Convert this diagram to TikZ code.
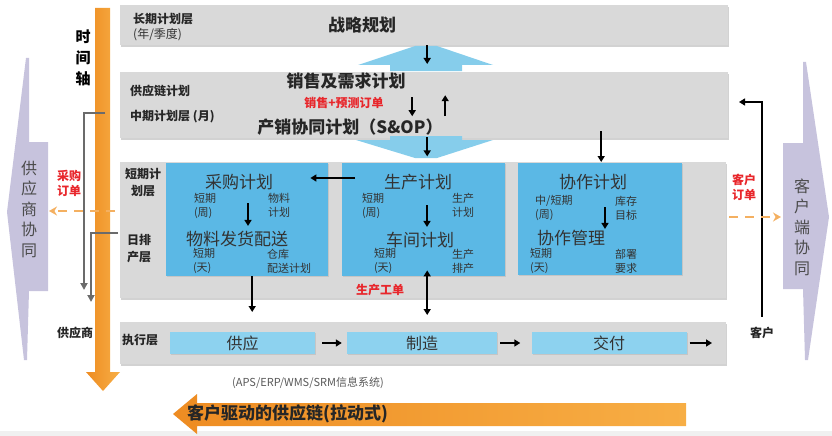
\documentclass[tikz,border=0pt]{standalone}
\usepackage{fontspec}
\setmainfont{Noto Sans CJK SC}
\usetikzlibrary{arrows.meta, positioning, calc, shadows}

\definecolor{layergray}{HTML}{D9D9D9}
\definecolor{planblue}{HTML}{5BB8E5}
\definecolor{execblue}{HTML}{8DD2EF}
\definecolor{flowblue}{HTML}{86CDEB}
\definecolor{lavender}{HTML}{C7C3DD}
\definecolor{axisdark}{HTML}{EE8C22}
\definecolor{axislight}{HTML}{F7AE45}
\definecolor{orderred}{HTML}{E8262B}
\definecolor{orderorange}{HTML}{F4B061}
\definecolor{linegray}{HTML}{6B6B6B}
\definecolor{textgray}{HTML}{333333}

\begin{document}
\begin{tikzpicture}[x=1pt, y=-1pt,
    layer/.style ={rectangle, fill=layergray, anchor=north west, inner sep=0pt,
                   drop shadow={shadow xshift=1.2pt, shadow yshift=-1.5pt, fill=black!35}},
    plan/.style  ={rectangle, fill=planblue, anchor=north west, inner sep=0pt,
                   drop shadow={shadow xshift=1pt, shadow yshift=-1.2pt, fill=black!30}},
    bar/.style   ={rectangle, fill=execblue, minimum height=22pt, inner sep=0pt, text=textgray,
                   font=\fontsize{16}{18}\selectfont,
                   drop shadow={shadow xshift=1pt, shadow yshift=-1.2pt, fill=black!30}},
    head/.style  ={inner sep=0pt, text=black!85, font=\fontsize{17}{19}\selectfont\bfseries},
    task/.style  ={inner sep=0pt, text=textgray, font=\fontsize{17}{19}\selectfont},
    note/.style  ={inner sep=0pt, text=textgray, align=left, font=\fontsize{11}{14}\selectfont},
    lvl/.style   ={inner sep=0pt, text=black!85, align=center, font=\fontsize{12}{17}\selectfont\bfseries},
    redlbl/.style={inner sep=0pt, text=orderred, align=center, font=\fontsize{12}{15}\selectfont\bfseries},
    vtxt/.style  ={inner sep=0pt, text=black!70, align=center, font=\fontsize{16}{20.5}\selectfont},
    flow/.style  ={-{Triangle[length=6pt, width=7pt]}, line width=1.6pt},
    dflow/.style ={{Triangle[length=6pt, width=7pt]}-{Triangle[length=6pt, width=7pt]}, line width=1.6pt},
    order/.style ={-{Stealth[length=8pt, width=9pt]}, draw=orderorange, line width=2pt,
                   dash pattern=on 9pt off 7pt},
    drop/.style  ={-{Triangle[length=7pt, width=7pt]}, draw=linegray, line width=2.2pt}
  ]
  \useasboundingbox (0,0) rectangle (832,436);
  \fill[black!6] (0,431) rectangle (832,436);

  % supplier / customer side shapes
  \fill[lavender] (26,58) -- (29,58) -- (29,142) -- (48,142) -- (48,291) -- (29,291)
    -- (27,360) -- (24,360) -- (7,212) -- cycle;
  \fill[lavender] (806,62) -- (803,62) -- (803,143) -- (783,143) -- (783,289) -- (803,289)
    -- (805,360) -- (808,360) -- (829,217) -- cycle;
  \node[vtxt] (gys) at (29,209) {供\\应\\商\\协\\同};
  \node[vtxt] (khs) at (802,227) {客\\户\\端\\协\\同};

  % time axis
  \shade[left color=axisdark, right color=axislight]
    (95,8) -- (110,8) -- (110,372) -- (120,372) -- (103,391) -- (86,372) -- (95,372) -- cycle;
  \node[inner sep=0pt, align=center, font=\fontsize{15}{21}\selectfont\bfseries] (axis) at (83,58) {时\\间\\轴};

  % planning layers
  \node[layer, minimum width=608pt, minimum height=40pt]  (lt)   at (120,5)   {};
  \node[layer, minimum width=608pt, minimum height=66pt]  (mid)  at (120,72)  {};
  \node[layer, minimum width=606pt, minimum height=136pt] (low)  at (120,162) {};
  \node[layer, minimum width=606pt, minimum height=42pt]  (exec) at (120,322) {};

  % flow between layers
  \fill[flowblue] (358,65) -- (415,46) -- (437,46) -- (493,65) -- (462,65) -- (462,71)
    -- (390,71) -- (390,65) -- cycle;
  \fill[flowblue] (390,136) -- (462,136) -- (462,140) -- (493,140) -- (437,158) -- (415,158)
    -- (356,140) -- (390,140) -- cycle;

  % long term
  \node[lvl, anchor=west] (ltl) at (133,19) {长期计划层};
  \node[note, anchor=west, font=\fontsize{12}{14}\selectfont] (lty) at (133,35) {(年/季度)};
  \node[head] (zl) at (362,25) {战略规划};
  \draw[flow] ($(lt.south)+(3,0)$) -- ($(mid.north)+(3,-8)$);

  % mid term
  \node[lvl, anchor=west] (scp) at (130,91)  {供应链计划};
  \node[lvl, anchor=west] (mtl) at (130,117) {中期计划层 (月)};
  \node[head] (sd)  at (346,81)  {销售及需求计划};
  \node[redlbl] (fo) at (344,103) {销售+预测订单};
  \node[head] (sop) at (350,127) {产销协同计划（S\&OP）};
  \draw[flow] ($(mid.center)+(-12,-8)$) -- ($(mid.center)+(-12,11)$);
  \draw[flow] ($(mid.center)+(21,11)$) -- ($(mid.center)+(21,-10)$);
  \draw[flow] ($(mid.south)+(3,-1)$) -- ($(mid.south)+(3,18)$);

  % short term / daily
  \node[lvl] (stl) at (143,183) {短期计\\划层};
  \node[lvl] (dsl) at (139,249) {日排\\产层};
  \node[plan, minimum width=162pt, minimum height=113pt] (pp) at (166,163) {};
  \node[plan, minimum width=163pt, minimum height=113pt] (sp) at (342,163) {};
  \node[plan, minimum width=164pt, minimum height=112pt] (cp) at (518,163) {};

  % purchase
  \node[task] (cg) at (239,182) {采购计划};
  \node[note] (cgt) at (205,206) {短期\\(周)};
  \node[note, anchor=west] (cgm) at (268,205) {物料\\计划};
  \node[task] (wl) at (237,239) {物料发货配送};
  \node[note] (wlt) at (204,261) {短期\\(天)};
  \node[note, anchor=west] (wlm) at (267,261) {仓库\\配送计划};
  \draw[flow] ($(cg.south)+(9,13)$) -- ($(wl.north)+(11,-5)$);

  % production
  \node[task] (sc) at (418,182) {生产计划};
  \node[note] (sct) at (373,206) {短期\\(周)};
  \node[note, anchor=west] (scm) at (452,205) {生产\\计划};
  \node[task] (cj) at (420,240) {车间计划};
  \node[note] (cjt) at (385,261) {短期\\(天)};
  \node[note, anchor=west] (cjm) at (452,261) {生产\\排产};
  \draw[flow] ($(sc.south)+(9,15)$) -- ($(cj.north)+(7,-5)$);
  \draw[flow] ($(sp.north west)+(13,15)$) -- ($(pp.north east)+(-18,15)$);

  % collaboration
  \node[task] (xz) at (593,182) {协作计划};
  \node[note, anchor=west] (xzt) at (535,208) {中/短期\\(周)};
  \node[note, anchor=west] (xzm) at (615,208) {库存\\目标};
  \node[task] (xg) at (571,238) {协作管理};
  \node[note, anchor=west] (xgt) at (530,261) {短期\\(天)};
  \node[note, anchor=west] (xgm) at (615,261) {部署\\要求};
  \draw[flow] ($(xz.south)+(12,17)$) -- ($(xg.north)+(34,-1)$);
  \draw[flow] ($(mid.south -| cp.north)+(1,-7)$) -- ($(cp.north)+(1,-1)$);

  \node[redlbl] (gd) at (380,290) {生产工单};
  \draw[flow]  ($(pp.south)+(5,0)$) -- ($(pp.south |- exec.north)+(5,-10)$);
  \draw[dflow] ($(sp.south)+(3.5,-6)$) -- ($(sp.south |- exec.north)+(3.5,-7)$);

  % execution
  \node[lvl, anchor=west] (exl) at (122,340) {执行层};
  \node[bar, minimum width=145pt] (su) at (242.5,343) {供应};
  \node[bar, minimum width=150pt] (ma) at (422,343)   {制造};
  \node[bar, minimum width=155pt] (de) at (609,343)   {交付};
  \coordinate (out) at (712,343);
  \draw[flow] ($(su.east)+(7,0)$) -- ($(ma.west)+(-5,0)$);
  \draw[flow] ($(ma.east)+(3,0)$) -- ($(de.west)+(-11,0)$);
  \draw[flow] ($(de.east)+(3,0)$) -- (out);
  \node[inner sep=0pt, text=black!65, font=\fontsize{11}{13}\selectfont] (sys) at (308,383)
    {(APS/ERP/WMS/SRM信息系统)};

  % supplier side
  \node[redlbl] (cgd) at (69,183) {采购\\订单};
  \coordinate (gyin) at (49,211);
  \draw[order] ($(low.west |- gyin)+(-5,0)$) -- (gyin);
  \draw[drop] (105,113) -| (84,290);
  \draw[drop] ($(low.west)+(-2,3)$) -| (91,302);
  \node[lvl] (gys2) at (75,333) {供应商};

  % customer side
  \node[lvl] (kh) at (762,333) {客户};
  \coordinate (ret) at (739,102);
  \draw[flow] (kh.north) ++(0,-10) |- (ret);
  \node[redlbl] (khd) at (744,187) {客户\\订单};
  \coordinate (khin) at (781,217);
  \draw[order] ($(low.east |- khin)+(3,0)$) -- (khin);

  % pull arrow
  \shade[left color=axisdark, right color=axislight]
    (686,403) -- (197,403) -- (197,394) -- (173,414) -- (197,434) -- (197,426) -- (686,426) -- cycle;
  \node[inner sep=0pt, anchor=west, text=black!85, font=\fontsize{17}{19}\selectfont\bfseries] (pull)
    at (187,414) {客户驱动的供应链(拉动式)};
\end{tikzpicture}
\end{document}
